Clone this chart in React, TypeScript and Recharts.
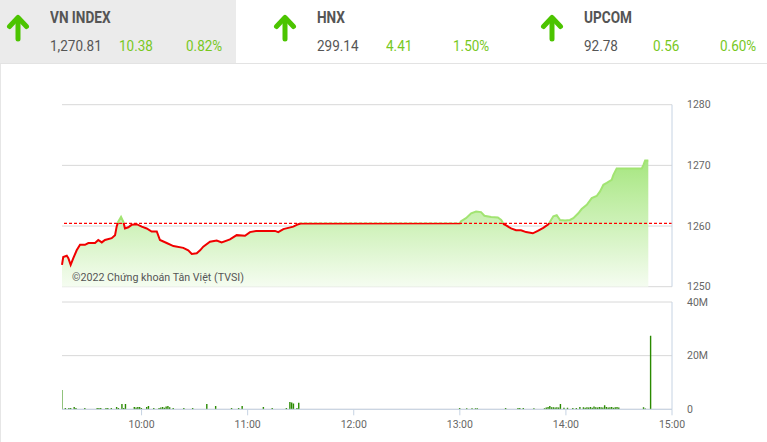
import React from 'react';
import { ComposedChart, Area, XAxis, YAxis, CartesianGrid, ReferenceLine, BarChart, Bar } from 'recharts';

// minutes since 09:00
const priceTimes = [
  15, 15.7, 17.7, 18.6, 19.9, 21.4, 23.3, 25.2, 28.0, 29.9, 33.7, 35.5, 37.5, 39.3, 43.1, 45.0, 45.9, 46.8, 48.4, 49.7,
  50.6, 52.5, 54.4, 57.2, 60.1, 62.9, 65.7, 68.6, 70.4, 74.2, 78.0, 83.6, 86.4, 88.4, 91.2, 93.1, 94.9, 98.7, 102.5, 105.3,
  110.0, 113.8, 118.5, 121.3, 125.1, 130.8, 135.5, 137.3, 140.2, 145.8, 148.7, 150,
  240, 240.7, 243.5, 246.4, 249.2, 252.0, 253.9, 257.7, 261.5, 263.4, 264.9, 266.2, 269.0, 271.8, 274.6, 277.5, 281.3, 284.1,
  287.2, 290.1, 292.9, 294.8, 296.7, 299.5, 302.3, 304.2, 307.0, 308.9, 311.8, 314.6, 317.4, 319.3, 321.2, 323.1, 325.9, 326.8,
  328.7, 342.9, 343.8, 344.8, 346.6,
];
const priceValues = [
  1253.6, 1254.9, 1255.1, 1254.7, 1253.6, 1254.7, 1256.0, 1256.9, 1256.9, 1257.2, 1257.2, 1257.7, 1257.3, 1257.7, 1258.0, 1258.5, 1259.9, 1260.7, 1261.5, 1260.7,
  1259.6, 1259.8, 1260.2, 1260.3, 1259.9, 1259.6, 1259.1, 1259.1, 1257.7, 1257.2, 1256.7, 1256.4, 1256.0, 1255.4, 1255.5, 1256.0, 1256.6, 1257.4, 1257.6, 1257.3,
  1257.8, 1258.5, 1258.4, 1259.0, 1259.2, 1259.2, 1259.2, 1259.0, 1259.5, 1259.9, 1260.3, 1260.4,
  1260.45, 1260.8, 1261.3, 1262.1, 1262.4, 1262.3, 1261.7, 1261.5, 1261.4, 1261.0, 1260.3, 1260.1, 1259.6, 1259.3, 1259.3, 1259.0, 1258.8, 1259.2,
  1259.7, 1260.3, 1261.6, 1261.8, 1261.0, 1260.9, 1261.0, 1261.3, 1262.1, 1262.8, 1263.5, 1264.6, 1264.95, 1265.7, 1266.8, 1267.1, 1267.6, 1268.4,
  1269.5, 1269.5, 1270.05, 1270.81, 1270.81,
];
const refPrice = 1260.43;

// volume in millions
const volTimes = [
  15, 17, 19, 20, 22, 23, 28, 35, 36, 37, 40, 41, 43, 46, 47, 49, 50, 51, 56, 57, 58, 59, 60, 63, 64, 67,
  70, 71, 72, 73, 74, 75, 76, 78, 84, 89, 97, 102, 111, 115, 117, 129, 134, 142, 144, 145, 146, 148, 149,
  240, 244, 247, 249, 250, 266, 273, 274, 276, 282, 288, 289, 290, 291, 292, 293, 294, 295, 296, 297, 299, 301,
  304, 306, 308, 310, 311, 312, 313, 314, 315, 316, 317, 318, 319, 320, 321, 322, 323, 324, 325, 326, 327, 328, 329, 330,
  344, 345, 348,
];
const volValues = [
  7.2, 0.5, 0.5, 0.5, 0.9, 0.5, 0.5, 0.5, 0.5, 0.5, 0.5, 0.5, 0.5, 0.9, 0.5, 2.0, 0.5, 2.0, 0.9, 0.7, 0.9, 0.9, 0.5, 0.9, 1.2, 0.5,
  0.5, 0.7, 0.9, 0.6, 1.0, 1.2, 0.8, 0.5, 0.5, 0.5, 2.0, 1.2, 0.5, 0.5, 1.2, 0.9, 0.5, 0.5, 2.7, 2.5, 2.2, 0.5, 2.4,
  0.5, 0.4, 0.4, 0.4, 0.4, 0.5, 0.5, 0.5, 0.5, 0.4, 0.4, 0.7, 0.9, 1.2, 0.8, 0.8, 0.7, 0.8, 0.7, 2.0, 0.6, 0.6,
  0.5, 0.5, 0.9, 0.8, 0.6, 0.8, 0.7, 0.9, 0.6, 1.0, 0.8, 0.7, 0.9, 0.8, 0.7, 1.5, 0.9, 0.7, 0.8, 0.9, 0.6, 0.8, 0.9, 0.7, 0.8,
  0.3, 27.4, 0.5,
];

const priceTicks = [1250, 1260, 1270, 1280];
const volTicks = [0, 20, 40];
const timeTicks = [60, 120, 180, 240, 300, 360];
const timeLabels = ['10:00', '11:00', '12:00', '13:00', '14:00', '15:00'];

const indexNames = ['VN INDEX', 'HNX', 'UPCOM'];
const indexValues = ['1,270.81', '299.14', '92.78'];
const indexChanges = ['10.38', '4.41', '0.56'];
const indexPcts = ['0.82%', '1.50%', '0.60%'];

const priceData = priceTimes.map((t, i) => ({ t, p: priceValues[i] }));
const volData = volTimes.map((t, i) => ({ t, v: volValues[i] }));

const pMax = Math.max(...priceValues);
const pMin = Math.min(...priceValues);
const splitOffset = (pMax - refPrice) / (pMax - pMin);

const FONT = 'Roboto, "Noto Sans", sans-serif';
const AXIS_COLOR = '#c6d3e3';
const GRID_COLOR = '#d8d8d8';
const TICK_STYLE = { fill: '#666', fontSize: 10.5, fontFamily: FONT };

function Arrow({ left }: { left: number }) {
  return (
    <svg style={{ position: 'absolute', left, top: 13 }} width={24} height={29} viewBox="0 0 24 29">
      <path d="M12 6 L12 26" stroke="#4cc400" strokeWidth={5} strokeLinecap="round" fill="none" />
      <path d="M3.5 13.5 L12 4.5 L20.5 13.5" stroke="#4cc400" strokeWidth={5} strokeLinecap="round" strokeLinejoin="round" fill="none" />
    </svg>
  );
}

function Header() {
  return (
    <>
      <div style={{ position: 'absolute', left: 0, top: 0, width: 236, height: 63, background: '#ebebeb' }} />
      <div style={{ position: 'absolute', left: 0, top: 63, width: 767, height: 1, background: '#e3e3e3' }} />
      {indexNames.map((name, i) => {
        const b = i * 267;
        return (
          <React.Fragment key={name}>
            <Arrow left={b + 6} />
            <div style={{ position: 'absolute', left: b + 50, top: 7, fontFamily: FONT, fontWeight: 700, fontSize: 17, color: '#555', transform: 'scaleX(0.8)', transformOrigin: 'left', whiteSpace: 'nowrap' }}>{name}</div>
            <div style={{ position: 'absolute', left: b + 50, top: 37, fontFamily: FONT, fontSize: 15, color: '#555', transform: 'scaleX(0.9)', transformOrigin: 'left', whiteSpace: 'nowrap' }}>{indexValues[i]}</div>
            <div style={{ position: 'absolute', left: b + 119, top: 37, fontFamily: FONT, fontSize: 15, color: '#78c81e', transform: 'scaleX(0.9)', transformOrigin: 'left', whiteSpace: 'nowrap' }}>{indexChanges[i]}</div>
            <div style={{ position: 'absolute', left: b + 186, top: 37, fontFamily: FONT, fontSize: 15, color: '#78c81e', transform: 'scaleX(0.9)', transformOrigin: 'left', whiteSpace: 'nowrap' }}>{indexPcts[i]}</div>
          </React.Fragment>
        );
      })}
    </>
  );
}

export default function App() {
  return (
    <div style={{ position: 'absolute', left: 0, top: 0, width: 767, height: 442, background: '#fff', overflow: 'hidden' }}>
      <Header />
      <div style={{ position: 'absolute', left: 0, top: 64, width: 1, height: 378, background: '#e6e6e6' }} />
      <div style={{ position: 'absolute', left: 0, top: 70 }}>
        <ComposedChart width={767} height={230} data={priceData} margin={{ top: 34.7, right: 0, bottom: 13.3, left: 62 }}>
          <defs>
            <linearGradient id="lineGrad" x1="0" y1="0" x2="0" y2="1">
              <stop offset={0} stopColor="#a2e472" />
              <stop offset={splitOffset} stopColor="#a2e472" />
              <stop offset={splitOffset} stopColor="#f00000" />
              <stop offset={1} stopColor="#f00000" />
            </linearGradient>
            <linearGradient id="fillGrad" x1="0" y1="0" x2="0" y2="1">
              <stop offset={0} stopColor="#a6e67f" stopOpacity={1} />
              <stop offset={0.5} stopColor="#c8f0b0" stopOpacity={0.9} />
              <stop offset={1} stopColor="#f4fcef" stopOpacity={0.9} />
            </linearGradient>
          </defs>
          <CartesianGrid horizontal vertical={false} stroke={GRID_COLOR} />
          <XAxis dataKey="t" type="number" domain={[15, 360]} hide />
          <YAxis
            orientation="right"
            width={95}
            domain={[1250, 1280]}
            ticks={priceTicks}
            axisLine={{ stroke: AXIS_COLOR }}
            tickLine={false}
            tickSize={0}
            tickMargin={15}
            tick={TICK_STYLE}
          />
          <Area
            type="linear"
            dataKey="p"
            stroke="url(#lineGrad)"
            strokeWidth={2}
            fill="url(#fillGrad)"
            fillOpacity={1}
            baseValue={1250}
            dot={false}
            activeDot={false}
            isAnimationActive={false}
          />
          <ReferenceLine y={refPrice} stroke="#ff0000" strokeDasharray="3 2" strokeWidth={1.3} />
        </ComposedChart>
      </div>
      <div style={{ position: 'absolute', left: 72, top: 271, fontFamily: FONT, fontSize: 10.7, color: '#555', whiteSpace: 'nowrap' }}>
        ©2022 Chứng khoán Tân Việt (TVSI)
      </div>
      <div style={{ position: 'absolute', left: 0, top: 290 }}>
        <BarChart width={767} height={152} data={volData} margin={{ top: 12, right: 0, bottom: 2.7, left: 62 }}>
          <CartesianGrid horizontal vertical={false} stroke={GRID_COLOR} />
          <XAxis
            dataKey="t"
            type="number"
            domain={[15, 360]}
            ticks={timeTicks}
            tickFormatter={(v: number) => timeLabels[timeTicks.indexOf(v)] ?? ''}
            height={30}
            axisLine={{ stroke: AXIS_COLOR }}
            tickLine={{ stroke: AXIS_COLOR }}
            tickSize={6}
            tickMargin={5}
            tick={TICK_STYLE}
            allowDataOverflow
          />
          <YAxis
            orientation="right"
            width={95}
            domain={[0, 40]}
            ticks={volTicks}
            tickFormatter={(v: number) => (v === 0 ? '0' : `${v}M`)}
            axisLine={{ stroke: AXIS_COLOR }}
            tickLine={false}
            tickSize={0}
            tickMargin={15}
            tick={TICK_STYLE}
          />
          <Bar dataKey="v" fill="#2a8a00" barSize={1.4} isAnimationActive={false} />
        </BarChart>
      </div>
    </div>
  );
}
